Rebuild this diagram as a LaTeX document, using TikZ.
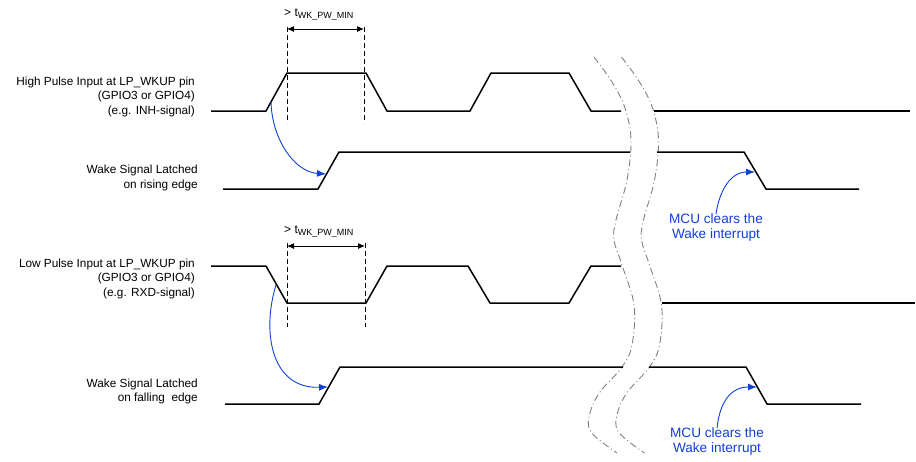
\documentclass[tikz,border=0pt]{standalone}
\usepackage{fontspec}
\setmainfont{Liberation Sans}
\usetikzlibrary{arrows.meta}
\definecolor{tiblue}{RGB}{16,64,214}
\definecolor{brkgray}{RGB}{128,128,128}
\begin{document}
\begin{tikzpicture}[x=1pt,y=-1pt,
  sig/.style={line width=1.5pt, line join=miter},
  dimline/.style={line width=0.9pt, dash pattern=on 5pt off 3pt},
  dimarrow/.style={line width=1pt, {Latex[length=7pt,width=6pt]}-{Latex[length=7pt,width=6pt]}},
  bluearrow/.style={line width=0.9pt, tiblue, -{Latex[length=9pt,width=7pt]}},
  brk/.style={brkgray, line width=0.9pt, dash pattern=on 7pt off 3pt on 1pt off 3pt},
  lbl/.style={font=\fontsize{11.8}{14.5}\selectfont, align=right, inner sep=0pt},
  mculbl/.style={font=\fontsize{13.6}{15.5}\selectfont, align=center, inner sep=0pt, text=tiblue},
  tlbl/.style={font=\fontsize{12}{14.5}\selectfont, inner sep=0pt, anchor=base west}
]
\useasboundingbox (0,0) rectangle (916,461);

% break curves
\foreach \s in {0,27.5}{
  \begin{scope}[xshift=\s pt]
  \draw[brk] plot[smooth, tension=0.6] coordinates {(594,57) (612,82) (625,108) (631,140) (627,180) (616,220) (614,240) (622,265) (634,305) (632,345) (622,367) (600,392) (590,413) (591,432) (617,453)};
  \end{scope}
}

% waveform 1: high pulse input
\draw[sig] (211,111) -- (266,111) -- (287,73) -- (366,73) -- (387,111) -- (470,111) -- (491,73) -- (569,73) -- (591,111) -- (621,111);
\draw[sig] (654,111) -- (910,111);
% waveform 2: wake latched (rising)
\draw[sig] (223,189) -- (318,189) -- (339,152) -- (630,152);
\draw[sig] (657,152) -- (744,152) -- (766,189) -- (859,189);
% waveform 3: low pulse input
\draw[sig] (211,266) -- (266,266) -- (287,303) -- (366,303) -- (387,266) -- (468,266) -- (490,303) -- (569,303) -- (591,266) -- (621,266);
\draw[sig] (662,303) -- (915,303);
% waveform 4: wake latched (falling)
\draw[sig] (225,404) -- (319,404) -- (340,367) -- (623,367);
\draw[sig] (649,367) -- (746,367) -- (767,404) -- (861,404);

% timing markers
\coordinate (d1a) at (287,27); \coordinate (d1b) at (287,123);
\coordinate (d2a) at (364,27); \coordinate (d2b) at (364,123);
\coordinate (d3a) at (287,243); \coordinate (d3b) at (287,327);
\coordinate (d4a) at (365,243); \coordinate (d4b) at (365,327);
\draw[dimline] (d1a) -- (d1b);
\draw[dimline] (d2a) -- (d2b);
\draw[dimline] (d3a) -- (d3b);
\draw[dimline] (d4a) -- (d4b);
\coordinate (m1a) at (287,29); \coordinate (m1b) at (364,29);
\coordinate (m2a) at (287,246); \coordinate (m2b) at (365,246);
\draw[dimarrow] (m1a) -- (m1b);
\draw[dimarrow] (m2a) -- (m2b);
\node[tlbl] (t1) at (284,16) {> t\raisebox{-2pt}{\fontsize{9}{10}\selectfont WK\_PW\_MIN}};
\node[tlbl] (t2) at (284,233) {> t\raisebox{-2pt}{\fontsize{9}{10}\selectfont WK\_PW\_MIN}};

% left labels
\node[lbl, anchor=east] (hpl) at (195,96.5) {High Pulse Input at LP\_WKUP pin\\(GPIO3 or GPIO4)\\(e.g. INH-signal)};
\node[lbl, anchor=east] (wrl) at (198,178) {Wake Signal Latched\\on rising edge};
\node[lbl, anchor=east] (lpl) at (195,278.5) {Low Pulse Input at LP\_WKUP pin\\(GPIO3 or GPIO4)\\(e.g. RXD-signal)};
\node[lbl, anchor=east] (wfl) at (198,391.5) {Wake Signal Latched\\on falling\ \ edge};

% MCU labels
\node[mculbl] (mcu1) at (716,227.5) {MCU clears the\\Wake interrupt};
\node[mculbl] (mcu2) at (717,441.5) {MCU clears the\\Wake interrupt};

% blue arrows
\coordinate (a1s) at (271,102); \coordinate (a1e) at (326,174);
\coordinate (a3s) at (276,285); \coordinate (a3e) at (328,387);
\coordinate (a2e) at (755,172); \coordinate (a4e) at (757,387);
\draw[bluearrow] (a1s) .. controls (272,140) and (295,172) .. (a1e);
\draw[bluearrow] (a3s) .. controls (262,330) and (270,389) .. (a3e);
\draw[bluearrow] ([yshift=-1pt]mcu1.north) .. controls (719,192) and (730,172) .. (a2e);
\draw[bluearrow] ([yshift=-1pt]mcu2.north) .. controls (720,400) and (732,387) .. (a4e);
\end{tikzpicture}
\end{document}
